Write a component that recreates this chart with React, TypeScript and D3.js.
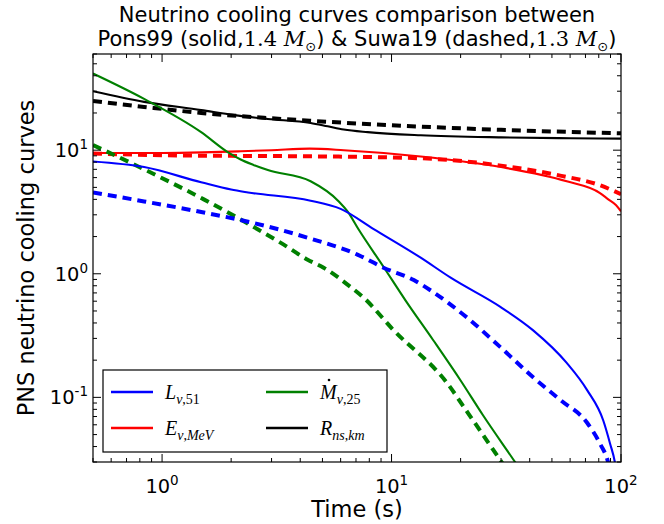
import React from "react";
import * as d3 from "d3";

// ---- data ----
const tLs = [0.5, 0.835, 1.48, 2.0, 2.37, 4.44, 6.0, 8.36, 13.4, 18.1, 29.8, 41.3, 58, 71.3, 83.7, 89.7, 94, 97];
const vLs = [8.1, 7.3, 5.5, 4.8, 4.55, 3.9, 3.35, 2.3, 1.35, 0.93, 0.54, 0.35, 0.19, 0.114, 0.065, 0.042, 0.03, 0.02];

const tLd = [0.5, 0.835, 1.52, 2.45, 4.3, 7.1, 9.22, 12.5, 15.2, 21.4, 29.8, 41.3, 54.5, 71.3, 81.1, 87.8, 92];
const vLd = [4.55, 3.85, 3.13, 2.6, 1.96, 1.43, 1.12, 0.89, 0.71, 0.44, 0.255, 0.146, 0.095, 0.062, 0.042, 0.03, 0.02];

const tEs = [0.5, 1, 1.5, 2.2, 3, 4.4, 6.2, 13.4, 30, 58, 81, 88, 95, 100];
const vEs = [9.5, 9.5, 9.6, 9.8, 10.0, 10.3, 10.0, 8.9, 7.3, 5.6, 4.5, 4.0, 3.6, 3.2];

const tEd = [0.5, 1, 2, 5, 13.4, 30, 55, 81, 100];
const vEd = [9.4, 9.1, 9.0, 8.9, 8.6, 7.5, 6.2, 5.2, 4.4];

const tMs = [0.5, 0.835, 1.48, 1.94, 2.2, 2.5, 2.89, 4.44, 5.89, 6.43, 7.19, 9.22, 11.5, 15.2, 20, 25, 34.7, 40];
const vMs = [41.7, 26, 14, 9.6, 8.4, 7.6, 6.9, 5.6, 3.85, 3.2, 2.28, 1.14, 0.61, 0.29, 0.137, 0.072, 0.0296, 0.02];

const tMd = [0.5, 0.835, 1.52, 2.32, 3.39, 4.31, 5.06, 6.64, 7.56, 10.2, 17.5, 21.4, 30.3, 35];
const vMd = [11, 7.0, 4.0, 2.6, 1.72, 1.3, 1.12, 0.78, 0.64, 0.35, 0.13, 0.076, 0.0296, 0.02];

const tRs = [0.5, 0.835, 1.48, 2.06, 2.89, 4.44, 5.27, 6.19, 7.87, 13.4, 30, 60, 100];
const vRs = [30, 24.6, 21.1, 19.2, 17.9, 16.6, 15.6, 14.7, 14.0, 13.2, 12.7, 12.5, 12.4];

const tRd = [0.5, 0.835, 1.48, 2.89, 4.44, 13.4, 30, 100];
const vRd = [25, 22.4, 20, 18.2, 17.3, 15.5, 14.6, 13.7];

const xMajor = [1, 10, 100];
const xMajorExp = ["0", "1", "2"];
const yMajor = [0.1, 1, 10];
const yMajorExp = ["-1", "0", "1"];

const BLUE = "#0000ff";
const RED = "#ff0000";
const GREEN = "#008000";
const BLACK = "#000000";

const L = 93, R = 621, T = 54, B = 462;

export default function App() {
  const x = d3.scaleLog().domain([0.5, 100]).range([L, R]);
  const y = d3.scaleLog().domain([0.03, 60]).range([B, T]);

  const mk = (ts: number[], vs: number[]) =>
    d3
      .line<number>()
      .x((_, i) => x(ts[i]))
      .y((_, i) => y(vs[i]))
      .curve(d3.curveMonotoneX)(vs) || "";

  const series = [
    { t: tRs, v: vRs, c: BLACK, dash: false },
    { t: tRd, v: vRd, c: BLACK, dash: true },
    { t: tEs, v: vEs, c: RED, dash: false },
    { t: tEd, v: vEd, c: RED, dash: true },
    { t: tMs, v: vMs, c: GREEN, dash: false },
    { t: tMd, v: vMd, c: GREEN, dash: true },
    { t: tLs, v: vLs, c: BLUE, dash: false },
    { t: tLd, v: vLd, c: BLUE, dash: true },
  ];

  const xMinor: number[] = [];
  [0.1, 1, 10].forEach((d) => {
    for (let k = 2; k <= 9; k++) {
      const v = d * k;
      if (v >= 0.5 && v <= 100) xMinor.push(v);
    }
  });
  const yMinor: number[] = [];
  [0.01, 0.1, 1, 10].forEach((d) => {
    for (let k = 2; k <= 9; k++) {
      const v = d * k;
      if (v >= 0.03 && v <= 60) yMinor.push(v);
    }
  });

  const sans = "'DejaVu Sans', sans-serif";
  const serif = "'Liberation Serif', 'DejaVu Serif', serif";
  const mathT = "'DejaVu Serif', serif";

  // sub: [text, italic?]
  const legendItems: { c: string; x0: number; y0: number; main: string; sub: [string, boolean][]; dot: boolean }[] = [
    { c: BLUE, x0: 111, y0: 392, main: "L", sub: [["ν", true], [",51", false]], dot: false },
    { c: RED, x0: 111, y0: 428, main: "E", sub: [["ν", true], [",", false], ["MeV", true]], dot: false },
    { c: GREEN, x0: 266, y0: 392, main: "M", sub: [["ν", true], [",25", false]], dot: true },
    { c: BLACK, x0: 266, y0: 428, main: "R", sub: [["ns", true], [",", false], ["km", true]], dot: false },
  ];

  return (
    <svg
      width={664}
      height={524}
      style={{ position: "absolute", left: 0, top: 0, background: "#fff" }}
    >
      <rect x={0} y={0} width={664} height={524} fill="#fff" />
      <defs>
        <clipPath id="plotclip">
          <rect x={L} y={T} width={R - L} height={B - T} />
        </clipPath>
      </defs>

      {/* title */}
      <text x={(L + R) / 2} y={22} textAnchor="middle" fontFamily={sans} fontSize={21}>
        Neutrino cooling curves comparison between
      </text>
      <text x={(L + R) / 2} y={46} textAnchor="middle" fontFamily={sans} fontSize={21}>
        <tspan>Pons99 (solid,</tspan>
        <tspan fontFamily={mathT}>1.4 </tspan>
        <tspan fontFamily={mathT} fontStyle="italic">M</tspan>
        <tspan fontSize={13} dy={5}>⊙</tspan>
        <tspan dy={-5}>) &amp; Suwa19 (dashed,</tspan>
        <tspan fontFamily={mathT}>1.3 </tspan>
        <tspan fontFamily={mathT} fontStyle="italic">M</tspan>
        <tspan fontSize={13} dy={5}>⊙</tspan>
        <tspan dy={-5}>)</tspan>
      </text>

      {/* curves */}
      <g clipPath="url(#plotclip)">
        {series.map((s, i) => (
          <path
            key={i}
            d={mk(s.t, s.v)}
            fill="none"
            stroke={s.c}
            strokeWidth={s.dash ? 4 : 2.1}
            strokeDasharray={s.dash ? "9,6" : undefined}
            strokeLinecap="butt"
            strokeLinejoin="round"
          />
        ))}
      </g>

      {/* ticks */}
      <g stroke="#000" strokeWidth={1}>
        {xMajor.map((v) => (
          <g key={"xM" + v}>
            <line x1={x(v)} x2={x(v)} y1={B} y2={B - 8} />
            <line x1={x(v)} x2={x(v)} y1={T} y2={T + 8} />
          </g>
        ))}
        {xMinor.map((v) => (
          <g key={"xm" + v}>
            <line x1={x(v)} x2={x(v)} y1={B} y2={B - 4} />
            <line x1={x(v)} x2={x(v)} y1={T} y2={T + 4} />
          </g>
        ))}
        {yMajor.map((v) => (
          <g key={"yM" + v}>
            <line x1={L} x2={L + 8} y1={y(v)} y2={y(v)} />
            <line x1={R} x2={R - 8} y1={y(v)} y2={y(v)} />
          </g>
        ))}
        {yMinor.map((v) => (
          <g key={"ym" + v}>
            <line x1={L} x2={L + 4} y1={y(v)} y2={y(v)} />
            <line x1={R} x2={R - 4} y1={y(v)} y2={y(v)} />
          </g>
        ))}
      </g>

      {/* frame */}
      <rect x={L} y={T} width={R - L} height={B - T} fill="none" stroke="#000" strokeWidth={1.2} />

      {/* x tick labels */}
      {xMajor.map((v, i) => (
        <text key={"xl" + v} x={x(v)} y={493} textAnchor="middle" fontFamily={sans} fontSize={19.4}>
          <tspan>10</tspan>
          <tspan fontSize={13.5} dy={-8}>{xMajorExp[i]}</tspan>
        </text>
      ))}
      {/* y tick labels */}
      {yMajor.map((v, i) => (
        <text key={"yl" + v} x={88} y={y(v) + 7} textAnchor="end" fontFamily={sans} fontSize={19.4}>
          <tspan>10</tspan>
          <tspan fontSize={13.5} dy={-8}>{yMajorExp[i]}</tspan>
        </text>
      ))}

      {/* axis labels */}
      <text x={(L + R) / 2} y={517} textAnchor="middle" fontFamily={sans} fontSize={22.5}>
        Time (s)
      </text>
      <text
        transform={`translate(34,${(T + B) / 2}) rotate(-90)`}
        textAnchor="middle"
        fontFamily={sans}
        fontSize={22.5}
      >
        PNS neutrino cooling curves
      </text>

      {/* legend */}
      <rect x={103} y={370} width={284} height={82} fill="#fff" stroke="#000" strokeWidth={1.2} />
      {legendItems.map((it, i) => (
        <g key={"lg" + i}>
          <line x1={it.x0} x2={it.x0 + 42} y1={it.y0} y2={it.y0} stroke={it.c} strokeWidth={2.5} />
          <text x={it.x0 + 54} y={it.y0 + 7} fontFamily={serif} fontSize={20}>
            <tspan fontStyle="italic">{it.main}</tspan>
            {it.sub.map((p, j) => (
              <tspan
                key={j}
                fontSize={14}
                fontStyle={p[1] ? "italic" : "normal"}
                dy={j === 0 ? 5 : 0}
              >
                {p[0]}
              </tspan>
            ))}
          </text>
          {it.dot ? <circle cx={it.x0 + 63} cy={it.y0 - 12} r={1.3} fill="#000" /> : null}
        </g>
      ))}
    </svg>
  );
}
